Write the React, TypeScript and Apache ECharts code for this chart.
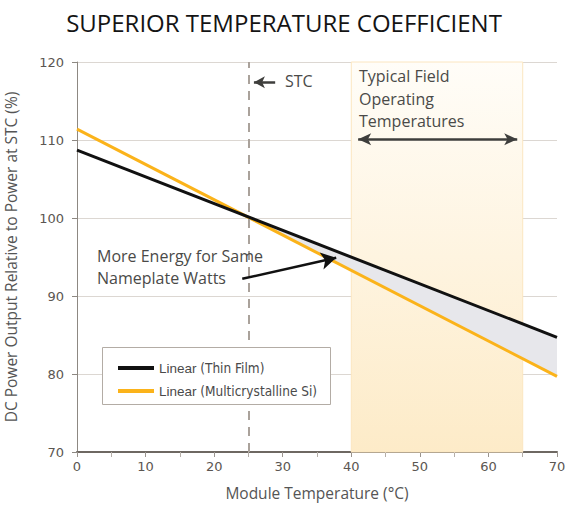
import React, { useEffect, useRef } from "react";
import * as echarts from "echarts";

// ---- data ----
const xTicks = [0, 10, 20, 30, 40, 50, 60, 70];
const yTicks = [70, 80, 90, 100, 110, 120];
const seriesNames = ["Linear (Thin Film)", "Linear (Multicrystalline Si)"];
const thinFilm: [number, number][] = [
  [0, 108.7],
  [70, 84.7],
];
const multiSi: [number, number][] = [
  [0, 111.4],
  [70, 79.7],
];
// region between the two lines, right of STC crossing
const gapPolygon: [number, number][] = [
  [25, 100],
  [70, 84.7],
  [70, 79.7],
];
const stcTemp = 25;
const fieldRange = [40, 65];
const stcArrow: [number, number][] = [
  [28.9, 117.4],
  [25.8, 117.4],
];
const fieldArrow: [number, number][] = [
  [41, 110.1],
  [64.2, 110.1],
];
const energyArrow: [number, number][] = [
  [24.1, 92.2],
  [37.8, 94.9],
];

export default function App() {
  const ref = useRef<HTMLDivElement>(null);
  useEffect(() => {
    if (!ref.current) return;
    const chart = echarts.init(ref.current, null, { renderer: "svg" });
    const labelFont = "DejaVu Sans";
    const annFont = "Open Sans";
    const option: any = {
      animation: false,
      backgroundColor: "#ffffff",
      title: {
        text: "SUPERIOR TEMPERATURE COEFFICIENT",
        left: "center",
        top: 5,
        textStyle: {
          fontFamily: annFont,
          fontSize: 24,
          fontWeight: 500,
          color: "#141414",
        },
      },
      grid: { left: 77, right: 11, top: 62, bottom: 54, outerBoundsMode: "none", containLabel: false },
      legend: {
        show: true,
        z: 20,
        data: seriesNames,
        orient: "vertical",
        left: 113,
        top: 356,
        itemGap: 9,
        itemWidth: 36,
        itemHeight: 4,
        icon: "rect",
        textStyle: {
          fontFamily: "Liberation Sans",
          fontSize: 13,
          color: "#4a4a4a",
          rich: {
            a: { fontFamily: "Liberation Sans", fontSize: 13.5, color: "#4a4a4a" },
            b: {
              fontFamily: "'Liberation Sans Narrow', 'DejaVu Sans Condensed'",
              fontSize: 13.5,
              color: "#4a4a4a",
            },
          },
        },
        formatter: (name: string) => {
          const i = name.indexOf("(");
          return "{a|" + name.slice(0, i) + "}{b|" + name.slice(i) + "}";
        },
      },
      xAxis: {
        type: "value",
        min: xTicks[0],
        max: xTicks[xTicks.length - 1],
        interval: 10,
        name: "Module Temperature (°C)",
        nameLocation: "middle",
        nameGap: 33,
        nameTextStyle: { fontFamily: annFont, fontSize: 15.5, color: "#555" },
        axisLine: { show: true, lineStyle: { color: "#6e6862", width: 2 } },
        axisTick: { show: true, length: 5, lineStyle: { color: "#9a948e" } },
        minorTick: { show: true, splitNumber: 2, length: 5, lineStyle: { color: "#b5afa9" } },
        splitLine: { show: false },
        axisLabel: { fontFamily: labelFont, fontSize: 13, color: "#5b5651", margin: 8 },
      },
      yAxis: {
        type: "value",
        min: yTicks[0],
        max: yTicks[yTicks.length - 1],
        interval: 10,
        name: "DC Power Output Relative to Power at STC (%)",
        nameLocation: "middle",
        nameGap: 58,
        nameTextStyle: { fontFamily: annFont, fontSize: 15.5, color: "#555" },
        axisLine: { show: true, lineStyle: { color: "#8d8882", width: 1 } },
        axisTick: { show: true, length: 5, lineStyle: { color: "#8d8882" } },
        splitLine: { show: true, lineStyle: { color: "#dcd7d2", width: 1 } },
        axisLabel: { fontFamily: labelFont, fontSize: 13, color: "#5b5651", margin: 13 },
      },
      series: [
        {
          name: "helper",
          type: "line",
          data: [],
          z: 1,
          silent: true,
          markArea: {
            silent: true,
            itemStyle: {
              color: new echarts.graphic.LinearGradient(0, 0, 0, 1, [
                { offset: 0, color: "#fffdf8" },
                { offset: 1, color: "#fdebc8" },
              ]),
              borderColor: "#fbe6c0",
              borderWidth: 1,
            },
            data: [[{ xAxis: fieldRange[0] }, { xAxis: fieldRange[1] }]],
          },
        },
        {
          name: "gap",
          type: "custom",
          z: 2,
          silent: true,
          data: gapPolygon,
          encode: { x: 0, y: 1 },
          renderItem: (params: any, api: any) => {
            if (params.dataIndex !== 0) return null;
            const pts = gapPolygon.map((p) => api.coord(p));
            return {
              type: "polygon",
              shape: { points: pts },
              style: { fill: "#e7e7eb", stroke: "none" },
            };
          },
        },
        {
          name: "stc",
          type: "line",
          data: [],
          z: 3,
          silent: true,
          markLine: {
            silent: true,
            symbol: ["none", "none"],
            label: { show: false },
            lineStyle: { color: "#aaa29b", width: 2, type: [9, 7] },
            data: [[{ coord: [stcTemp, yTicks[0]] }, { coord: [stcTemp, yTicks[yTicks.length - 1]] }]],
          },
        },
        {
          name: seriesNames[1],
          type: "line",
          data: multiSi,
          z: 4,
          symbol: "none",
          color: "#fbb31a",
          lineStyle: { color: "#fbb31a", width: 3 },
        },
        {
          name: seriesNames[0],
          type: "line",
          data: thinFilm,
          z: 5,
          symbol: "none",
          color: "#111111",
          lineStyle: { color: "#111111", width: 3 },
        },
        {
          name: "arrows",
          type: "line",
          data: [],
          z: 6,
          silent: true,
          markLine: {
            silent: true,
            label: { show: false },
            data: [
              [
                { coord: stcArrow[0], symbol: "none" },
                { coord: stcArrow[1], symbol: "arrow", symbolSize: [9, 11] },
              ],
              [
                { coord: fieldArrow[0], symbol: "arrow", symbolSize: [9, 13] },
                { coord: fieldArrow[1], symbol: "arrow", symbolSize: [9, 13] },
              ],
              [
                { coord: energyArrow[0], symbol: "none", lineStyle: { color: "#111", width: 2.5 } },
                { coord: energyArrow[1], symbol: "arrow", symbolSize: [13, 15] },
              ],
            ],
            lineStyle: { color: "#3e3e3c", width: 2.5, type: "solid" },
          },
        },
      ],
      graphic: [
        {
          type: "text",
          z: 100,
          left: 285,
          top: 73,
          style: { text: "STC", font: "16px 'Open Sans'", fill: "#4a4a48" },
        },
        {
          type: "text",
          z: 100,
          left: 359,
          top: 65,
          style: {
            text: "Typical Field\nOperating\nTemperatures",
            font: "16px 'Open Sans'",
            lineHeight: 22.5,
            fill: "#4a4a48",
          },
        },
        {
          type: "text",
          z: 100,
          left: 97,
          top: 245,
          style: {
            text: "More Energy for Same\nNameplate Watts",
            font: "16px 'Open Sans'",
            lineHeight: 22,
            fill: "#4a4a48",
          },
        },
        {
          type: "rect",
          z: 10,
          shape: { x: 102.5, y: 347.5, width: 228, height: 57 },
          style: { fill: "#ffffff", stroke: "#b3aca5", lineWidth: 1 },
        },
      ],
    };
    chart.setOption(option);
    return () => chart.dispose();
  }, []);
  return (
    <div
      ref={ref}
      style={{ position: "absolute", left: 0, top: 0, width: 568, height: 506 }}
    />
  );
}
